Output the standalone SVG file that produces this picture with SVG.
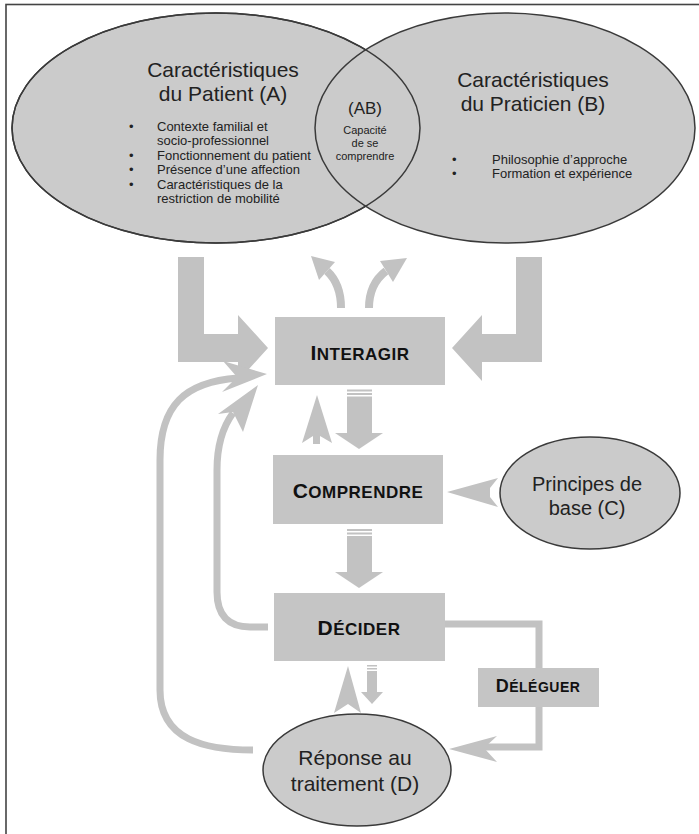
<svg xmlns="http://www.w3.org/2000/svg" width="699" height="834" viewBox="0 0 699 834">
<style>
.ell{fill:#cbcbcb;stroke:#3a3a3a;stroke-width:1.5}
.out{fill:none;stroke:#3a3a3a;stroke-width:1.5}
.box{fill:#c5c5c5}
.arr{fill:#c2c2c2}
.ln{fill:none;stroke:#c2c2c2;stroke-width:7}
.th{fill:none;stroke:#c2c2c2;stroke-width:8}
.t{font-family:"Liberation Sans",Arial,sans-serif;fill:#222}
.b{font-family:"Liberation Sans",Arial,sans-serif;font-weight:bold;fill:#111;letter-spacing:0.5px}
</style>
<rect x="6" y="4.5" width="720" height="850" fill="#fff" stroke="#444" stroke-width="1.6"/>

<g id="connectors">
  <!-- L arrows from ellipses to INTERAGIR -->
  <polygon class="arr" points="178,257 204,257 204,334 238,334 238,315 268,348 238,381 238,362 178,362"/>
  <polygon class="arr" points="542,257 516,257 516,334 482,334 482,315 452,348 482,381 482,362 542,362"/>
  <!-- curved arrows up from INTERAGIR -->
  <path class="th" d="M341 308 Q341 284 327 271"/>
  <polygon class="arr" points="311,256 335,262 319,280"/>
  <path class="th" d="M369 308 Q369 284 386 271"/>
  <polygon class="arr" points="407,258 380,261 393,282"/>
  <!-- INTERAGIR -> COMPRENDRE -->
  <rect class="arr" x="347" y="389.5" width="25" height="2"/>
  <rect class="arr" x="347" y="393" width="25" height="2"/>
  <rect class="arr" x="347" y="396.5" width="25" height="37"/>
  <polygon class="arr" points="335,433 383,433 359,449"/>
  <!-- COMPRENDRE -> INTERAGIR -->
  <polygon class="arr" points="317,395 332,443 320,436 320,444 313,444 313,436 302,443"/>
  <!-- COMPRENDRE -> DECIDER -->
  <rect class="arr" x="347" y="529" width="25" height="2"/>
  <rect class="arr" x="347" y="532.5" width="25" height="2"/>
  <rect class="arr" x="347" y="536" width="25" height="36"/>
  <polygon class="arr" points="335,572 383,572 359,588"/>
  <!-- Principes -> COMPRENDRE -->
  <polygon class="arr" points="447,492 498,478 490,488 490,497 498,507"/>
  <!-- DECIDER -> Reponse (small) -->
  <rect class="arr" x="367" y="665" width="10" height="1.5"/>
  <rect class="arr" x="367" y="668" width="10" height="1.5"/>
  <rect class="arr" x="367" y="671" width="10" height="21"/>
  <polygon class="arr" points="361,692 383,692 372,704"/>
  <!-- Reponse -> DECIDER -->
  <polygon class="arr" points="348,666 361,713 348,704 334,713"/>
  <!-- DECIDER -> INTERAGIR (inner loop) -->
  <path class="ln" d="M268 627 L250 627 C228 627 217 615 217 592 L217 470 C217 445 222 428 233 413"/>
  <polygon class="arr" points="258,385 243,432 233,412 218,414"/>
  <!-- Reponse -> INTERAGIR (outer loop) -->
  <path class="ln" d="M253 750 C205 750 160 740 160 690 L160 460 C160 405 185 382 238 378"/>
  <polygon class="arr" points="267,374 223,361 237,377 222,392"/>
  <!-- DECIDER -> DELEGUER -> Reponse -->
  <path class="ln" d="M445 624 L539 624 L539 668"/>
  <path class="ln" d="M539 707 L539 747 L484 747"/>
  <polygon class="arr" points="449,749 497,736 484,748 497,762"/>
</g>

<g id="nodeA">
  <ellipse class="ell" cx="216" cy="128" rx="204" ry="115"/>
  <text class="t" x="223" y="77" font-size="21" text-anchor="middle">Caractéristiques</text>
  <text class="t" x="223" y="101" font-size="21" text-anchor="middle">du Patient (A)</text>
  <g class="t" font-size="13">
    <text x="129" y="131">•</text>
    <text x="157" y="131">Contexte familial et</text>
    <text x="157" y="145">socio-professionnel</text>
    <text x="129" y="160">•</text>
    <text x="157" y="160">Fonctionnement du patient</text>
    <text x="129" y="174">•</text>
    <text x="157" y="174">Présence d’une affection</text>
    <text x="129" y="189">•</text>
    <text x="157" y="189">Caractéristiques de la</text>
    <text x="157" y="203">restriction de mobilité</text>
  </g>
</g>

<g id="nodeB">
  <ellipse class="ell" cx="505" cy="128" rx="190" ry="115"/>
  <text class="t" x="533" y="87" font-size="21" text-anchor="middle">Caractéristiques</text>
  <text class="t" x="533" y="111" font-size="21" text-anchor="middle">du Praticien (B)</text>
  <g class="t" font-size="13">
    <text x="452" y="164">•</text>
    <text x="492" y="164">Philosophie d’approche</text>
    <text x="452" y="178">•</text>
    <text x="492" y="178">Formation et expérience</text>
  </g>
</g>

<g id="nodeAB">
  <ellipse class="out" cx="216" cy="128" rx="204" ry="115"/>
  <text class="t" x="365" y="114" font-size="17" text-anchor="middle">(AB)</text>
  <text class="t" x="365" y="134" font-size="11" text-anchor="middle">Capacité</text>
  <text class="t" x="365" y="147" font-size="11" text-anchor="middle">de se</text>
  <text class="t" x="365" y="160" font-size="11" text-anchor="middle">comprendre</text>
</g>

<g id="interagir">
  <rect class="box" x="275" y="317" width="170" height="68"/>
  <text class="b" x="360" y="360" text-anchor="middle"><tspan font-size="21">I</tspan><tspan font-size="17">NTERAGIR</tspan></text>
</g>

<g id="comprendre">
  <rect class="box" x="273" y="455" width="170" height="69"/>
  <text class="b" x="358" y="498" text-anchor="middle"><tspan font-size="21">C</tspan><tspan font-size="17">OMPRENDRE</tspan></text>
</g>

<g id="principes">
  <ellipse class="ell" cx="590" cy="493" rx="90" ry="56"/>
  <text class="t" x="587" y="491" font-size="20" text-anchor="middle">Principes de</text>
  <text class="t" x="587" y="515" font-size="20" text-anchor="middle">base (C)</text>
</g>

<g id="decider">
  <rect class="box" x="274" y="593" width="171" height="68"/>
  <text class="b" x="359" y="635" text-anchor="middle"><tspan font-size="21">D</tspan><tspan font-size="17">ÉCIDER</tspan></text>
</g>

<g id="deleguer">
  <rect class="box" x="478" y="668" width="121" height="39"/>
  <text class="b" x="538" y="692" text-anchor="middle" letter-spacing="0.8"><tspan font-size="18">D</tspan><tspan font-size="14">ÉLÉGUER</tspan></text>
</g>

<g id="reponse">
  <ellipse class="ell" cx="357" cy="770" rx="94" ry="56"/>
  <text class="t" x="355" y="765" font-size="21" text-anchor="middle">Réponse au</text>
  <text class="t" x="355" y="791" font-size="21" text-anchor="middle">traitement (D)</text>
</g>
</svg>
